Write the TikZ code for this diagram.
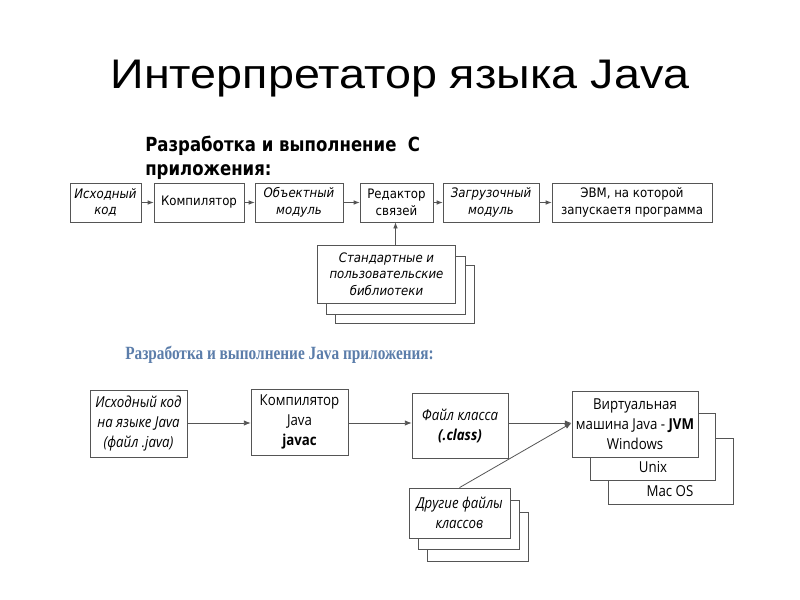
\documentclass[tikz,border=0pt]{standalone}
\usepackage{fontspec}
\usetikzlibrary{arrows.meta}
\newfontfamily\titlefont[FakeStretch=1.13]{Liberation Sans}
\newfontfamily\dvfont[FakeStretch=0.9]{DejaVu Sans}
\newfontfamily\dvhead[FakeStretch=0.85]{DejaVu Sans}
\newfontfamily\osfont[FakeStretch=0.88]{Open Sans}
\newfontfamily\serhead[FakeStretch=0.82]{Liberation Serif}
\definecolor{lineg}{HTML}{555555}
\definecolor{headblue}{HTML}{5B7DAA}
\tikzset{
  sz/.style 2 args={minimum width=#1*0.75pt, minimum height=#2*0.75pt},
  tfont/.style={font=\dvfont\fontsize{9.8}{12.5}\selectfont},
  tifont/.style={font=\dvfont\itshape\fontsize{9.8}{12.5}\selectfont},
  tbox/.style={draw=lineg, line width=0.6pt, fill=white, align=center, inner sep=0pt, tfont},
  bfont/.style={font=\osfont\fontsize{11.3}{15}\selectfont},
  bifont/.style={font=\osfont\itshape\fontsize{11.3}{15}\selectfont},
  bbox/.style={draw=lineg, line width=0.6pt, fill=white, align=center, inner sep=0pt, bfont},
  arr/.style={draw=lineg, line width=0.6pt, -{Latex[length=4.5pt,width=3.5pt]}},
  barr/.style={draw=lineg, line width=0.6pt, -{Latex[length=5pt,width=4pt]}},
}
\begin{document}
\begin{tikzpicture}[x=0.75pt,y=-0.75pt]
\useasboundingbox (0,0) rectangle (800,600);
\fill[white] (0,0) rectangle (800,600);
% title
\node[anchor=base, inner sep=0pt, font=\titlefont\fontsize{31}{34}\selectfont] (title) at (400,88) {Интерпретатор языка Java};
% top heading
\node[anchor=base west, inner sep=0pt, align=left, font=\dvhead\bfseries\fontsize{14.6}{18}\selectfont] (h1) at (145,175) {Разработка и выполнение~~С\\приложения:};
% top row
\node[tbox, sz={71}{39}, tifont] (s1) at (105.5,202.5) {Исходный\\код};
\node[tbox, sz={90}{39}] (s2) at (199,202.5) {Компилятор};
\node[tbox, sz={88}{39}, tifont] (s3) at (299,202.5) {Объектный\\модуль};
\node[tbox, sz={73}{39}] (s4) at (396.5,202.5) {Редактор\\связей};
\node[tbox, sz={96}{39}, tifont] (s5) at (491,202.5) {Загрузочный\\модуль};
\node[tbox, sz={160}{39}] (s6) at (632,202.5) {ЭВМ, на которой\\запускаетя программа};
\draw[arr] (s1) -- (s2);
\draw[arr] (s2) -- (s3);
\draw[arr] (s3) -- (s4);
\draw[arr] (s4) -- (s5);
\draw[arr] (s5) -- (s6);
% libraries stack
\node[tbox, sz={139}{58}] (lib3) at (405,294.5) {};
\node[tbox, sz={139}{58}] (lib2) at (395.5,285) {};
\node[tbox, sz={138}{58}, tifont] (lib1) at (386.5,274) {Стандартные и\\пользовательские\\библиотеки};
\coordinate (libtop) at (395.5,245);
\draw[arr] (libtop) -- (libtop |- s4.south);
% bottom heading
\node[anchor=base west, inner sep=0pt, text=headblue, font=\serhead\bfseries\fontsize{14}{16}\selectfont] (h2) at (125,359) {Разработка и выполнение Java приложения:};
% bottom row
\node[bbox, sz={97}{67}, bifont] (b1) at (138.5,423.5) {Исходный код\\на языке Java\\(файл .java)};
\node[bbox, sz={97}{66}] (b2) at (299.5,422) {Компилятор\\Java\\\textbf{javac}};
\node[bbox, sz={96}{65}, bifont] (b3) at (460,425.5) {Файл класса\\\textbf{(.class)}};
\node[bbox, sz={125}{66}] (mac) at (670.5,471) {};
\node[anchor=base, inner sep=0pt, bfont] (mact) at (670,496) {Mac OS};
\node[bbox, sz={125}{67}] (unix) at (652.5,446.5) {};
\node[anchor=base, inner sep=0pt, bfont] (unixt) at (653,472) {Unix};
\node[bbox, sz={126}{66}] (jvm) at (635,424) {Виртуальная\\машина Java - \textbf{JVM}\\Windows};
\node[bbox, sz={101}{49}] (o3) at (477.5,536.5) {};
\node[bbox, sz={101}{49}] (o2) at (468.5,525) {};
\node[bbox, sz={101}{50}, bifont] (o1) at (459.5,513) {Другие файлы\\классов};
\coordinate (jin) at (571.5,423);
\draw[barr] (b1.east |- 0,423) -- (b2.west |- 0,423);
\draw[barr] (b2.east |- 0,423) -- (b3.west |- 0,423);
\draw[barr] (b3.east |- 0,423) -- (jin);
\draw[barr] (o1.north) -- (jin);
\end{tikzpicture}
\end{document}
